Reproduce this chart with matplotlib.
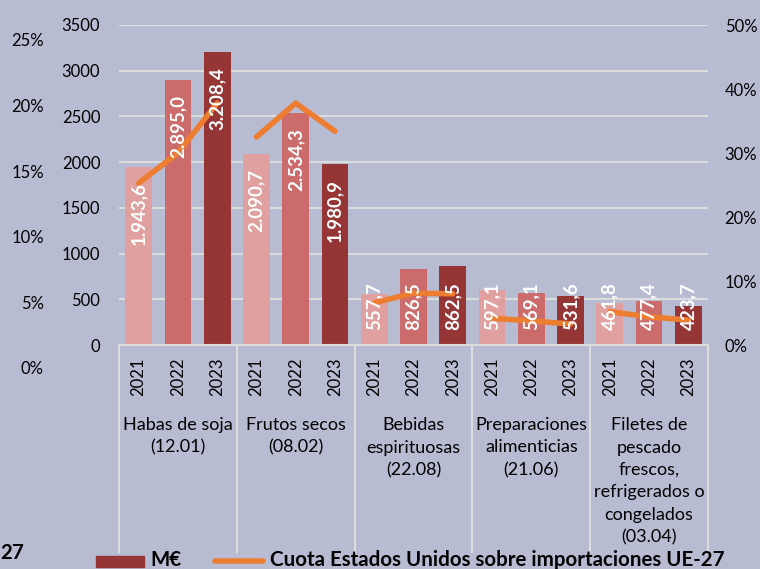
import matplotlib.pyplot as plt
import matplotlib.transforms as mtransforms
from matplotlib.lines import Line2D
from matplotlib.patches import Rectangle

plt.rcParams['font.family'] = ['Lato', 'DejaVu Sans']

# datos
grupos = ['Habas de soja\n(12.01)', 'Frutos secos\n(08.02)', 'Bebidas\nespirituosas\n(22.08)',
          'Preparaciones\nalimenticias\n(21.06)',
          'Filetes de\npescado\nfrescos,\nrefrigerados o\ncongelados\n(03.04)']
anios = ['2021', '2022', '2023']
m_eur = [[1943.6, 2895.0, 3208.4],
         [2090.7, 2534.3, 1980.9],
         [557.7, 826.5, 862.5],
         [597.1, 569.1, 531.6],
         [461.8, 477.4, 423.7]]
cuota = [[0.253, 0.300, 0.378],
         [0.325, 0.378, 0.334],
         [0.066, 0.081, 0.080],
         [0.042, 0.0375, 0.033],
         [0.052, 0.044, 0.039]]

fondo = '#b8bcd2'
colores = ['#e0a0a0', '#cc6b6b', '#963535']
naranja = '#ed7d31'
gris = '#dcdcdc'

fig = plt.figure(figsize=(7.6, 5.69), dpi=100, facecolor=fondo)
ax = fig.add_axes([119/760, 1-345/569, 589/760, 320/569])
ax.set_facecolor(fondo)

for i, g in enumerate(m_eur):
    for j, v in enumerate(g):
        ax.bar(i*3 + j, v, width=0.68, color=colores[j], zorder=2)

ax.set_ylim(0, 3500)
ax.set_xlim(-0.5, 14.5)
ax.set_yticks(range(0, 3501, 500))
ax.yaxis.grid(True, color=gris, linewidth=1.5, zorder=0)
ax.set_axisbelow(True)
for s in ['top', 'right', 'left']:
    ax.spines[s].set_visible(False)
ax.spines['bottom'].set_color(gris)
ax.spines['bottom'].set_linewidth(1.5)
ax.tick_params(axis='y', length=0, pad=13.5, labelsize=12)
ax.set_xticks(range(15))
ax.set_xticklabels(anios * 5, rotation=90, fontsize=12)
ax.tick_params(axis='x', length=0, pad=9)

# separadores de grupo y nombres
for k in range(6):
    ax.axvline(k*3 - 0.5, ymin=-207/320, ymax=0, color=gris, linewidth=1.5, clip_on=False)
trans = mtransforms.blended_transform_factory(ax.transData, ax.transAxes)
for i, g in enumerate(grupos):
    ax.text(i*3 + 1, -72/320, g, transform=trans, ha='center', va='top', fontsize=13,
            linespacing=1.5)

# eje secundario (cuota)
ax2 = ax.twinx()
for i, c in enumerate(cuota):
    ax2.plot([i*3 + j for j in range(3)], c, color=naranja, linewidth=4, solid_capstyle='round',
             zorder=3)
ax2.set_ylim(0, 0.5)
ax2.set_yticks([0, 0.1, 0.2, 0.3, 0.4, 0.5])
ax2.set_yticklabels(['0%', '10%', '20%', '30%', '40%', '50%'])
ax2.tick_params(axis='y', length=0, pad=12, labelsize=12)
for s in ax2.spines.values():
    s.set_visible(False)

# etiquetas de datos (encima de la linea)
for i, g in enumerate(m_eur):
    for j, v in enumerate(g):
        x = i*3 + j
        txt = f"{v:,.1f}".replace(',', 'X').replace('.', ',').replace('X', '.')
        if v > 1500:
            ax2.text(x, v - 164, txt, transform=ax.transData, rotation=90, ha='center',
                     va='top', color='white', fontsize=13.5, fontweight='bold', zorder=5)
        else:
            ax2.text(x, 164, txt, transform=ax.transData, rotation=90, ha='center',
                     va='bottom', color='white', fontsize=13.5, fontweight='bold', zorder=5)

# eje porcentual exterior
ax3 = fig.add_axes([48/760, 1-368/569, 0.001, 328/569], frameon=False)
ax3.set_ylim(0, 0.25)
ax3.set_yticks([0, 0.05, 0.10, 0.15, 0.20, 0.25])
ax3.set_yticklabels(['0%', '5%', '10%', '15%', '20%', '25%'])
ax3.set_xticks([])
ax3.tick_params(axis='y', length=0, pad=3, labelsize=12)

# leyenda (recortada como en el original)
fig.patches.append(Rectangle((96/760, 1-567/569), 48/760, 11/569, transform=fig.transFigure,
                             color=colores[2]))
fig.text(150/760, 1-560/569, 'M€', fontsize=14.8, fontweight='bold', va='center')
fig.lines.append(Line2D([215/760, 263/760], [1-561/569, 1-561/569], transform=fig.transFigure,
                        color=naranja, linewidth=4, solid_capstyle='round'))
fig.text(270/760, 1-560/569, 'Cuota Estados Unidos sobre importaciones UE-27', fontsize=14.8,
         fontweight='bold', va='center')
fig.text(0, 1-553/569, '27', fontsize=14.8, fontweight='bold', va='center')

fig.savefig('out.png', dpi=100, facecolor=fondo)
